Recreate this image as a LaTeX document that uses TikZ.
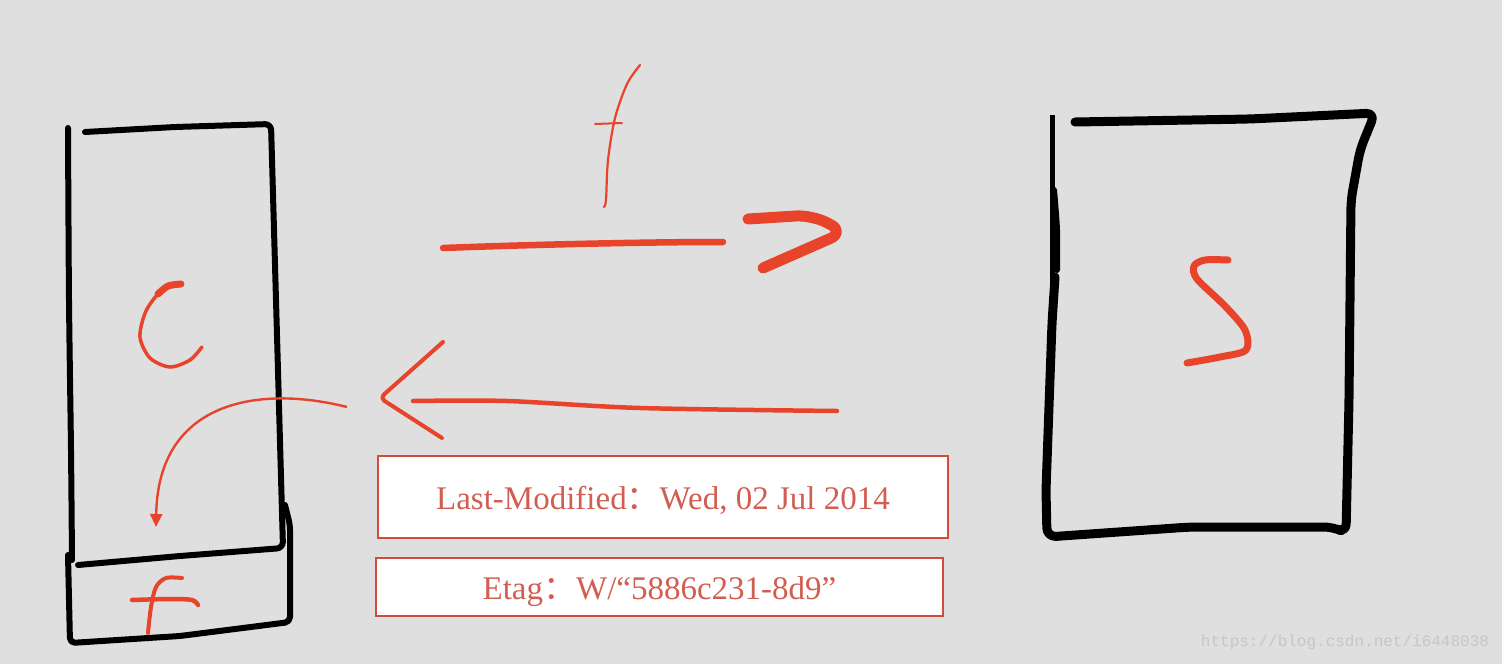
\documentclass[tikz,border=0pt]{standalone}
\usepackage{fontspec}
\setmainfont{Liberation Serif}
\newfontfamily\cjk{Noto Sans CJK SC}
\newfontfamily\wmfont{Liberation Mono}
\usetikzlibrary{arrows.meta}
\definecolor{bg}{HTML}{DFDFDF}
\definecolor{pen}{HTML}{E8432B}
\definecolor{txtred}{HTML}{D25E52}
\definecolor{boxred}{HTML}{D24B3B}
\definecolor{wmgray}{HTML}{C6C6C6}
\tikzset{
  blk/.style={draw=black, line width=6pt, line cap=round, line join=round},
  blkthick/.style={draw=black, line width=9pt, line cap=round, line join=round},
  redpen/.style={draw=pen, line cap=round, line join=round},
  infobox/.style={draw=boxred, line width=2.6pt, fill=white, inner sep=0pt, text=txtred, font=\fontsize{33}{37}\selectfont},
}
\begin{document}
\begin{tikzpicture}[x=1pt,y=-1pt]
\fill[bg] (0,0) rectangle (1502,664);
\useasboundingbox (0,0) rectangle (1502,664);

% ---------- client box ----------
\draw[blk] plot[smooth] coordinates {(68,128) (69,300) (71,450) (72,560)};
\draw[blk, rounded corners=6pt] (85,132) -- (175,127) -- (271,124) -- (276,300) -- (283,548) -- (180,556) -- (78,565);
\draw[blk, rounded corners=5pt] (285,505) -- (290,525) -- (290,622) -- (180,636) -- (70,643) -- (68,555);
% C
\draw[redpen, line width=3.5pt] plot[smooth] coordinates {(180,284) (162,290) (146,311) (140,337) (150,358) (170,367) (190,360) (202,347)};
\draw[redpen, line width=7pt] plot[smooth] coordinates {(181,284) (168,286) (158,294)};
% f in cache
\draw[redpen, line width=4pt] plot[smooth] coordinates {(182,578) (166,578) (156,587) (151,607) (148,633)};
\draw[redpen, line width=4.5pt] plot[smooth] coordinates {(132,600) (170,599) (192,600) (198,605)};
% cache arrow
\coordinate (cstart) at (347,407);
\coordinate (cend) at (156,527);
\draw[pen, line width=2.4pt, -{Triangle[length=13pt,width=12pt]}] (cstart) .. controls (260,385) and (158,400) .. (cend);

% ---------- server box ----------
\draw[draw=black, line width=5pt] (1052,115) -- (1052,287);
\draw[blk] plot[smooth] coordinates {(1054,190) (1057,230) (1057,270)};
\draw[blkthick, rounded corners=9pt] (1075,122) -- (1250,119) -- (1375,113) -- (1360,150) -- (1351,200) -- (1349,400) -- (1346,533) -- (1333,527) -- (1190,527) -- (1047,537) -- (1046,490) -- (1052,323) -- (1055,277);
% S
\draw[redpen, line width=7pt] plot[smooth, tension=0.5] coordinates {(1228,260) (1205,260) (1194,266) (1197,279) (1225,306) (1245,330) (1246,350) (1220,357) (1187,363)};

% ---------- request arrow ----------
\coordinate (reqL) at (443,248);
\coordinate (reqR) at (723,242);
\draw[redpen, line width=6.5pt] (reqL) .. controls (520,245) and (640,242) .. (reqR);
\draw[redpen, line width=11pt, rounded corners=16pt] (748,219) -- (812,215) -- (845,232) -- (763,268);
% f above
\draw[redpen, line width=2.2pt] plot[smooth] coordinates {(640,65) (627,84) (615,118) (608,160) (606,200) (604,207)};
\draw[redpen, line width=2pt] (595,124) -- (622,123);

% ---------- response arrow ----------
\coordinate (resR) at (837,411);
\coordinate (resL) at (413,401);
\draw[redpen, line width=4.5pt] plot[smooth] coordinates {(resR) (640,408) (507,401) (resL)};
\draw[redpen, line width=4pt, rounded corners=5pt] (443,342) -- (380,398) -- (442,438);

% ---------- header boxes ----------
\node[infobox, minimum width=570pt, minimum height=82pt] (lm) at (663,497) {\raisebox{-3pt}[\height][\depth]{Last-Modified{\cjk ：}Wed, 02 Jul 2014}};
\node[infobox, minimum width=567pt, minimum height=58pt] (etag) at (659.5,587) {\raisebox{-5pt}[\height][\depth]{Etag{\cjk ：}W/“5886c231-8d9”}};

% watermark
\node[text=wmgray, font=\wmfont\fontsize{16}{18}\selectfont, inner sep=0pt] (wm) at (1345,642) {https://blog.csdn.net/i6448038};
\end{tikzpicture}
\end{document}
